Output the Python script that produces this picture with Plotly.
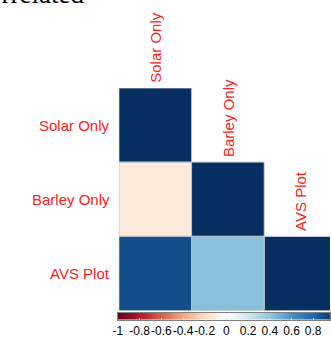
import plotly.graph_objects as go

labels = ["Solar Only", "Barley Only", "AVS Plot"]
row_solar = [1.0, None, None]
row_barley = [-0.12, 1.0, None]
row_avs = [0.89, 0.42, 1.0]
cbar_ticks = [-1, -0.8, -0.6, -0.4, -0.2, 0, 0.2, 0.4, 0.6, 0.8, 1]
cbar_text = ["-1", "-0.8", "-0.6", "-0.4", "-0.2", "0", "0.2", "0.4", "0.6", "0.8", "1"]
title_text = "Correlated"

rdbu = ["#67001F", "#B2182B", "#D6604D", "#F4A582", "#FDDBC7", "#FFFFFF",
        "#D1E5F0", "#92C5DE", "#4393C3", "#2166AC", "#053061"]
colorscale = [[i / 10, c] for i, c in enumerate(rdbu)]

z = [row_solar, row_barley, row_avs]
W, H = 331, 338
cell = 74.0
label_font = dict(family="Liberation Sans, Arial", size=15, color="#FF2020")

fig = go.Figure()
fig.add_trace(go.Heatmap(
    z=z, x=[0, 1, 2], y=[0, 1, 2], zmin=-1, zmax=1, colorscale=colorscale,
    hoverinfo="skip", showscale=False, xaxis="x", yaxis="y"))

# colour key strip (legend of the colour scale)
fig.add_trace(go.Heatmap(
    z=[cbar_ticks], x=cbar_ticks, y=[0], zmin=-1, zmax=1, colorscale=colorscale,
    zsmooth="best", hoverinfo="skip", showscale=False, xaxis="x2", yaxis="y2"))

shapes = []
for i, row in enumerate(z):
    for j, v in enumerate(row):
        if v is not None:
            shapes.append(dict(type="rect", xref="x", yref="y", x0=j - 0.5, x1=j + 0.5,
                               y0=i - 0.5, y1=i + 0.5, line=dict(color="#b8c0c8", width=1)))

ann = []
for i, lab in enumerate(labels):
    ann.append(dict(text=lab, xref="paper", yref="y", x=109 / W, y=i, xanchor="right",
                    yanchor="middle", showarrow=False, font=label_font))
    ann.append(dict(text=lab, xref="x", yref="y", x=i, y=i - 0.5, xanchor="center",
                    yanchor="bottom", textangle=-90, showarrow=False, yshift=3,
                    font=label_font))
ann.append(dict(text=title_text, xref="paper", yref="paper", x=-38 / W, y=1 + 6.5 / H,
                xanchor="left", yanchor="middle", showarrow=False,
                font=dict(family="Liberation Serif, Times New Roman, serif", size=27, color="black")))

cb_left, cb_w = 115, 221
fig.update_layout(
    width=W, height=H, margin=dict(l=0, r=0, t=0, b=0),
    paper_bgcolor="white", plot_bgcolor="white",
    xaxis=dict(domain=[116 / W, 1], range=[-0.5, -0.5 + (W - 116) / cell], visible=False,
               showgrid=False, zeroline=False),
    yaxis=dict(domain=[1 - 310.5 / H, 1 - 88 / H], range=[2.5, -0.5], visible=False,
               showgrid=False, zeroline=False),
    xaxis2=dict(domain=[cb_left / W, 1], anchor="y2",
                range=[-1, -1 + 2 * (W - cb_left) / cb_w],
                tickmode="array", tickvals=cbar_ticks, ticktext=cbar_text, tickangle=0,
                ticks="inside", ticklen=2, tickcolor="#e0e0e0", showgrid=False, zeroline=False,
                showline=True, linecolor="#808080", linewidth=1, mirror=True,
                tickfont=dict(family="Liberation Sans, Arial", size=12, color="black")),
    yaxis2=dict(domain=[1 - 319.5 / H, 1 - 313 / H], anchor="x2", range=[-0.5, 0.5],
                showticklabels=False, ticks="", showgrid=False, zeroline=False,
                showline=True, linecolor="#808080", linewidth=1, mirror=True),
    shapes=shapes, annotations=ann, showlegend=False,
)

fig.write_html("out.html")
